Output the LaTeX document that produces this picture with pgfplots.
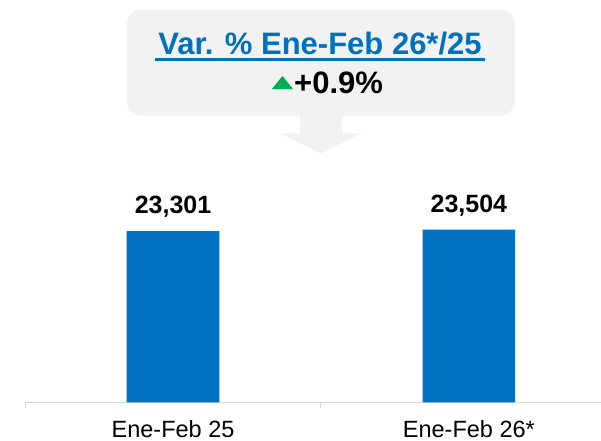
\documentclass[border=0pt]{standalone}
\usepackage{fontspec}
\setmainfont{Liberation Sans}
\usepackage{pgfplots}
\pgfplotsset{compat=1.18}
\definecolor{barblue}{HTML}{0070C0}
\definecolor{boxgray}{HTML}{F2F2F2}
\definecolor{axgray}{HTML}{D9D9D9}
\definecolor{upgreen}{HTML}{00B050}
\begin{document}
\begin{tikzpicture}[x=1pt,y=1pt]
\useasboundingbox (0,0) rectangle (601,440);
% callout box
\fill[boxgray, rounded corners=15pt] (126.7,324.3) rectangle (515,430.7);
\fill[boxgray] (300,326) -- (300,306.7) -- (280,306.7) -- (321,286.7) -- (362,306.7) -- (342,306.7) -- (342,326) -- cycle;
\node[anchor=base, text=barblue, font=\fontsize{31}{36}\selectfont\bfseries, inner sep=0pt] at (320,385) {Var. \% Ene-Feb 26*/25};
\fill[barblue] (155,379) rectangle (485,381.6);
\fill[upgreen] (272,351) -- (293,351) -- (282.5,364) -- cycle;
\node[anchor=base west, font=\fontsize{31}{36}\selectfont\bfseries, inner sep=0pt] at (294,347) {+0.9\%};
\begin{axis}[
  at={(25.1pt,37.7pt)}, anchor=south west,
  scale only axis, width=575.9pt, height=402.3pt,
  xmin=-0.5, xmax=1.4467, ymin=0, ymax=54722,
  clip=false,
  ybar, bar width=92.6pt,
  axis y line=none, axis x line*=bottom,
  x axis line style={-, axgray, line width=1pt},
  xtick={0,1}, xticklabels={Ene-Feb 25, Ene-Feb 26*},
  minor xtick={-0.5,0.5},
  major tick length=0pt, minor tick length=6pt, tick align=outside,
  every tick/.style={axgray, line width=1pt},
  xticklabel style={anchor=base, yshift=-35pt, inner sep=0pt, text depth=0pt, font=\fontsize{23.5}{28}\selectfont},
  nodes near coords,
  every node near coord/.append style={anchor=base, yshift=17.5pt, inner sep=0pt, font=\fontsize{25}{30}\selectfont\bfseries, text=black},
  /pgf/number format/1000 sep={,},
  /pgf/number format/assume math mode=true,
]
\addplot[fill=barblue, draw=none] coordinates {(0,23301) (1,23504)};
\end{axis}
\end{tikzpicture}
\end{document}
